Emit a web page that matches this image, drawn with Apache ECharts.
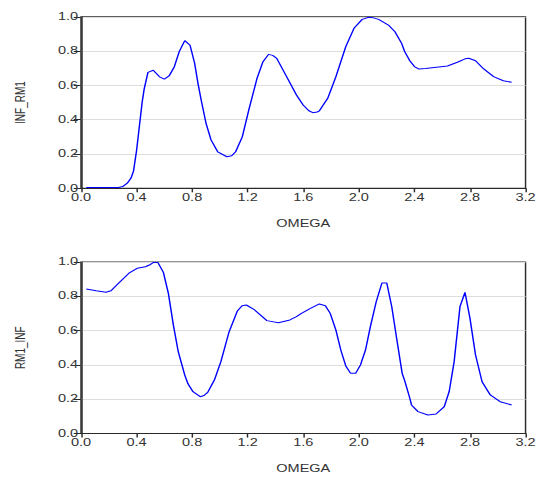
<!DOCTYPE html>
<html><head><meta charset="utf-8">
<script src="https://cdn.jsdelivr.net/npm/echarts@6/dist/echarts.min.js"></script>
<style>
html,body{margin:0;padding:0;background:#fff;overflow:hidden;}
#wrap{width:540px;height:477px;overflow:hidden;position:relative;}
#chart{width:372px;height:477px;transform:scaleX(1.4516);transform-origin:0 0;}
</style></head><body><div id="wrap"><div id="chart"></div></div>
<script>
// OMEGA sample points (INF_RM1)
const omegaTop = [0.038,0.12,0.20,0.27,0.30,0.333,0.36,0.378,0.40,0.42,0.44,0.455,0.482,0.52,0.565,0.60,0.634,0.672,0.707,0.747,0.785,0.818,0.842,0.865,0.90,0.936,0.984,1.05,1.085,1.113,1.161,1.208,1.267,1.31,1.35,1.38,1.409,1.48,1.551,1.599,1.64,1.669,1.70,1.716,1.776,1.835,1.906,1.965,2.024,2.071,2.10,2.142,2.213,2.26,2.308,2.33,2.367,2.40,2.43,2.48,2.544,2.638,2.709,2.765,2.792,2.84,2.899,2.97,3.04,3.10];
const infRm1 = [0.004,0.004,0.004,0.005,0.01,0.03,0.06,0.10,0.22,0.36,0.50,0.58,0.676,0.688,0.65,0.637,0.655,0.709,0.797,0.861,0.834,0.729,0.612,0.515,0.379,0.282,0.213,0.184,0.19,0.213,0.30,0.457,0.641,0.738,0.781,0.775,0.758,0.651,0.544,0.486,0.452,0.441,0.445,0.452,0.525,0.651,0.826,0.933,0.985,0.997,0.995,0.985,0.952,0.913,0.845,0.797,0.744,0.71,0.696,0.698,0.705,0.713,0.735,0.755,0.758,0.744,0.696,0.651,0.627,0.618];
// OMEGA sample points (RM1_INF)
const omegaBottom = [0.038,0.109,0.18,0.216,0.274,0.345,0.404,0.464,0.50,0.523,0.553,0.593,0.629,0.665,0.70,0.747,0.77,0.806,0.858,0.885,0.912,0.96,1.007,1.066,1.125,1.16,1.19,1.244,1.338,1.421,1.504,1.551,1.587,1.645,1.716,1.759,1.794,1.835,1.87,1.906,1.941,1.977,2.012,2.048,2.083,2.125,2.166,2.201,2.237,2.272,2.312,2.331,2.367,2.379,2.426,2.497,2.556,2.615,2.65,2.686,2.728,2.764,2.80,2.84,2.887,2.946,3.017,3.10];
const rm1Inf = [0.842,0.832,0.823,0.832,0.879,0.934,0.963,0.972,0.985,0.997,0.997,0.939,0.817,0.632,0.477,0.341,0.29,0.244,0.215,0.222,0.24,0.312,0.419,0.593,0.714,0.745,0.749,0.724,0.658,0.646,0.662,0.681,0.70,0.726,0.755,0.745,0.70,0.603,0.487,0.394,0.351,0.351,0.40,0.487,0.623,0.768,0.877,0.877,0.739,0.555,0.351,0.306,0.206,0.167,0.128,0.108,0.114,0.157,0.244,0.419,0.739,0.823,0.671,0.458,0.302,0.225,0.186,0.167];
const xTickStep = 0.4, xMin = 0, xMax = 3.2;
const yTickStep = 0.2, yMin = 0, yMax = 1.0;
const yNames = ['INF_RM1', 'RM1_INF'];
const xName = 'OMEGA';

const FONT = 'Liberation Sans';
const textCol = '#333333';
const axisCol = '#2a2a2a';

function xAxisCfg(gi) {
  return {
    type: 'value', gridIndex: gi, min: xMin, max: xMax, interval: xTickStep,
    name: xName, nameLocation: 'middle', nameGap: 30,
    nameTextStyle: {fontFamily: FONT, fontSize: 10, color: textCol},
    axisLine: {show: true, onZero: false, lineStyle: {color: axisCol, width: 1}},
    axisTick: {show: true, inside: false, length: 4, lineStyle: {color: axisCol}},
    axisLabel: {fontFamily: FONT, fontSize: 10, lineHeight: 10, color: textCol, margin: 4,
      formatter: v => v.toFixed(1)},
    splitLine: {show: false}
  };
}
function yAxisCfg(gi) {
  return {
    type: 'value', gridIndex: gi, min: yMin, max: yMax, interval: yTickStep,
    name: yNames[gi], nameLocation: 'middle', nameGap: 37, nameRotate: 90,
    nameTextStyle: {fontFamily: FONT, fontSize: 10, color: textCol},
    axisLine: {show: true, lineStyle: {color: axisCol, width: 1}},
    axisTick: {show: true, inside: false, length: 5, lineStyle: {color: axisCol}},
    axisLabel: {fontFamily: FONT, fontSize: 10, lineHeight: 10, color: textCol, margin: 2,
      formatter: v => v.toFixed(1)},
    splitLine: {show: true, lineStyle: {color: '#dddddd', width: 1}}
  };
}
const chart = echarts.init(document.getElementById('chart'), null, {renderer: 'svg'});
chart.setOption({
  animation: false,
  backgroundColor: '#ffffff',
  grid: [
    {left: 55.8, width: 310.7, top: 16.8, height: 171.5, show: true, borderColor: axisCol, borderWidth: 1, containLabel: false},
    {left: 55.8, width: 310.7, top: 261.9, height: 171.7, show: true, borderColor: axisCol, borderWidth: 1, containLabel: false}
  ],
  xAxis: [xAxisCfg(0), xAxisCfg(1)],
  yAxis: [yAxisCfg(0), yAxisCfg(1)],
  series: [
    {type: 'line', xAxisIndex: 0, yAxisIndex: 0, showSymbol: false, symbol: 'none',
     lineStyle: {color: '#0000ff', width: 1}, data: omegaTop.map((w, i) => [w, infRm1[i]])},
    {type: 'line', xAxisIndex: 1, yAxisIndex: 1, showSymbol: false, symbol: 'none',
     lineStyle: {color: '#0000ff', width: 1}, data: omegaBottom.map((w, i) => [w, rm1Inf[i]])}
  ]
});
</script></body></html>
